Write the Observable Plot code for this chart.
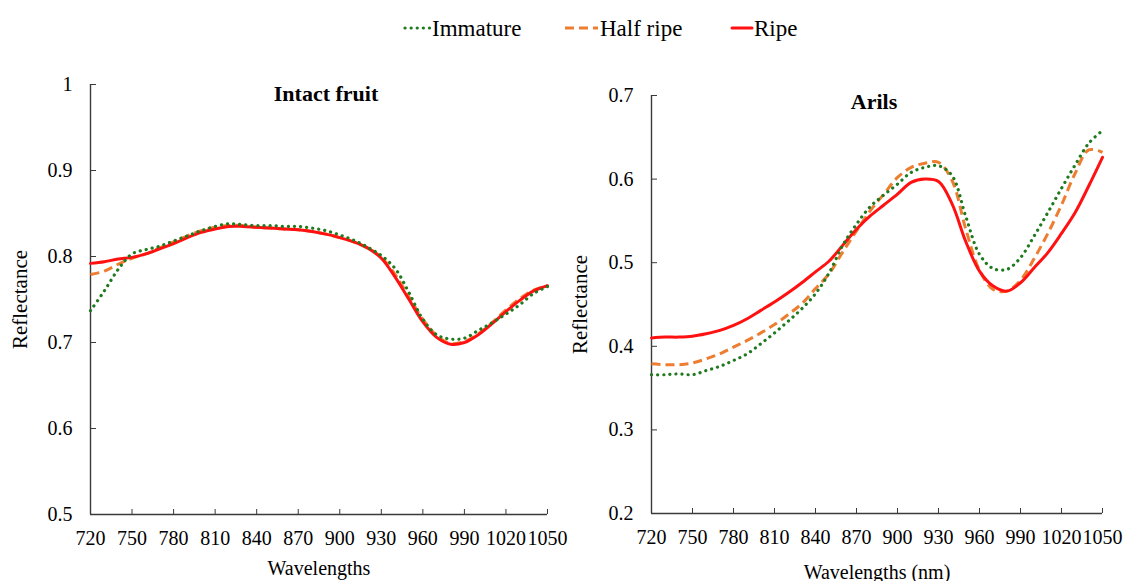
<!DOCTYPE html>
<html><head><meta charset="utf-8">
<script src="https://cdn.jsdelivr.net/npm/d3@7"></script>
<script src="https://cdn.jsdelivr.net/npm/@observablehq/plot@0.6"></script>
<style>
body{margin:0;background:#fff;width:1125px;height:581px;overflow:hidden;position:relative;font-family:"Liberation Serif","Times New Roman",serif;}
#left,#right{position:absolute;top:60px;}
#left{left:0}
#right{left:560px}
.leg{position:absolute;top:17px;font-size:23px;line-height:23px;color:#000;white-space:nowrap}
.sw{position:absolute;top:0;overflow:visible}
</style></head><body>
<div id="legend"></div>
<div id="left"></div><div id="right"></div>
<script>
// ---- data ----
const wavelengths = [720,730,740,750,760,770,780,790,800,810,820,830,840,850,860,870,880,890,900,910,920,930,940,950,960,970,980,990,1000,1010,1020,1030,1040,1050];
const xTicks = [720,750,780,810,840,870,900,930,960,990,1020,1050];
const yTicksFruit = [0.5,0.6,0.7,0.8,0.9,1];
const yTicksArils = [0.2,0.3,0.4,0.5,0.6,0.7];
const seriesNames = ["Immature","Half ripe","Ripe"];

// Intact fruit
const fruitImmature = [0.737,0.760,0.785,0.803,0.808,0.812,0.818,0.824,0.830,0.835,0.838,0.837,0.836,0.836,0.835,0.835,0.833,0.830,0.825,0.819,0.811,0.801,0.786,0.758,0.727,0.709,0.704,0.705,0.714,0.723,0.733,0.744,0.757,0.765];
const fruitHalfRipe = [0.779,0.783,0.791,0.798,0.803,0.810,0.817,0.824,0.830,0.834,0.836,0.836,0.834,0.833,0.832,0.831,0.829,0.826,0.822,0.817,0.810,0.799,0.779,0.753,0.727,0.708,0.699,0.701,0.710,0.723,0.738,0.751,0.761,0.766];
const fruitRipe = [0.792,0.794,0.797,0.799,0.803,0.809,0.815,0.822,0.828,0.832,0.835,0.835,0.834,0.833,0.832,0.831,0.829,0.826,0.822,0.817,0.810,0.798,0.776,0.750,0.724,0.706,0.698,0.700,0.709,0.722,0.736,0.749,0.760,0.766];

// Arils
const arilsImmature = [0.366,0.366,0.367,0.366,0.371,0.376,0.383,0.391,0.403,0.416,0.430,0.445,0.463,0.488,0.521,0.546,0.567,0.581,0.594,0.608,0.614,0.616,0.604,0.555,0.510,0.493,0.492,0.506,0.532,0.560,0.589,0.617,0.643,0.658];
const arilsHalfRipe = [0.379,0.378,0.378,0.380,0.385,0.391,0.399,0.407,0.416,0.426,0.438,0.451,0.469,0.487,0.513,0.538,0.562,0.582,0.602,0.614,0.619,0.620,0.598,0.540,0.491,0.468,0.466,0.479,0.505,0.535,0.569,0.607,0.635,0.632];
const arilsRipe = [0.410,0.411,0.411,0.412,0.415,0.419,0.425,0.433,0.443,0.453,0.464,0.476,0.489,0.502,0.521,0.540,0.556,0.569,0.582,0.596,0.600,0.597,0.570,0.525,0.490,0.472,0.466,0.476,0.494,0.512,0.535,0.560,0.592,0.626];

// ---- styles ----
const styles = {
  "Immature": {stroke:"#1f7a1f", strokeWidth:3.2, strokeDasharray:"0.1,6", strokeLinecap:"round"},
  "Half ripe": {stroke:"#ed7d31", strokeWidth:3, strokeDasharray:"9,5", strokeLinecap:"butt"},
  "Ripe": {stroke:"#ff1111", strokeWidth:3, strokeLinecap:"round"}
};
const drawOrder = ["Half ripe","Ripe","Immature"];
const FONT = '"Liberation Serif","Times New Roman",serif';

function panel(el, cfg) {
  const bySeries = {};
  seriesNames.forEach((name, j) => {
    bySeries[name] = wavelengths.map((w, i) => ({wl: w, v: cfg.values[j][i]}));
  });
  const marks = [
    Plot.ruleX([720], {stroke:"#3a3a3a", strokeWidth:1.4}),
    Plot.ruleY([cfg.yDomain[0]], {stroke:"#3a3a3a", strokeWidth:1.4}),
    Plot.axisX({ticks: xTicks, tickSize: -5, tickPadding: 21, tickFormat: d => String(d), label: null, stroke:"#3a3a3a", fill:"#000"}),
    Plot.axisY({ticks: cfg.yTicks, tickSize: -6, tickPadding: 24, tickFormat: d => String(d), label: null, stroke:"#3a3a3a", fill:"#000"}),
    ...drawOrder.map(name => Plot.line(bySeries[name], {x:"wl", y:"v", curve:"catmull-rom", strokeLinejoin:"round", ...styles[name]})),
    Plot.text([cfg.title], {frameAnchor:"top", lineAnchor:"middle", textAnchor:"middle", dx: cfg.titleDx, dy: cfg.titleDy, fontWeight:"bold", fontSize:22, fill:"#000"}),
    Plot.text(["Reflectance"], {frameAnchor:"left", rotate:-90, textAnchor:"middle", lineAnchor:"middle", dx: cfg.yLabelDx, fontSize:21, fill:"#000"}),
    Plot.text([cfg.xLabel], {frameAnchor:"bottom", lineAnchor:"middle", textAnchor:"middle", dy: cfg.xLabelDy, fontSize:20, fill:"#000"})
  ];
  const chart = Plot.plot({
    width: cfg.width, height: 521,
    marginLeft: cfg.ml, marginRight: cfg.mr, marginTop: cfg.mt, marginBottom: cfg.mb,
    x: {domain:[720,1050], axis:null},
    y: {domain: cfg.yDomain, axis:null},
    style: {fontFamily: FONT, fontSize:"20px", color:"#000", background:"transparent", overflow:"visible"},
    marks
  });
  document.getElementById(el).appendChild(chart);
}

panel("left", {values:[fruitImmature, fruitHalfRipe, fruitRipe], yDomain:[0.5,1], yTicks:yTicksFruit,
  title:"Intact fruit", titleDx:7, titleDy:9, xLabel:"Wavelengths", xLabelDy:54, yLabelDx:-70,
  width:560, ml:90, mr:13, mt:24, mb:67});
panel("right", {values:[arilsImmature, arilsHalfRipe, arilsRipe], yDomain:[0.2,0.7], yTicks:yTicksArils,
  title:"Arils", titleDx:-3, titleDy:6, xLabel:"Wavelengths (nm)", xLabelDy:59, yLabelDx:-71,
  width:565, ml:91, mr:23, mt:35, mb:68});

// ---- legend ----
const legendPos = {"Immature":[405,430], "Half ripe":[565,598], "Ripe":[732,752]};
const legend = document.getElementById("legend");
seriesNames.forEach(name => {
  const [x0, x1] = legendPos[name];
  const s = styles[name];
  const ns = "http://www.w3.org/2000/svg";
  const svg = document.createElementNS(ns, "svg");
  svg.setAttribute("class","sw");
  svg.setAttribute("width", x1 - x0 + 4);
  svg.setAttribute("height", 10);
  svg.style.position = "absolute";
  svg.style.left = (x0 - 2) + "px";
  svg.style.top = "23px";
  const ln = document.createElementNS(ns, "line");
  ln.setAttribute("x1", 2); ln.setAttribute("x2", x1 - x0 + 2);
  ln.setAttribute("y1", 5); ln.setAttribute("y2", 5);
  ln.setAttribute("stroke", s.stroke);
  ln.setAttribute("stroke-width", s.strokeWidth);
  if (s.strokeDasharray) ln.setAttribute("stroke-dasharray", s.strokeDasharray);
  ln.setAttribute("stroke-linecap", s.strokeLinecap);
  legend.appendChild(svg); svg.appendChild(ln);
  const t = document.createElement("div");
  t.className = "leg";
  t.style.left = (x1 + 2) + "px";
  t.textContent = name;
  legend.appendChild(t);
});
</script>
</body></html>
